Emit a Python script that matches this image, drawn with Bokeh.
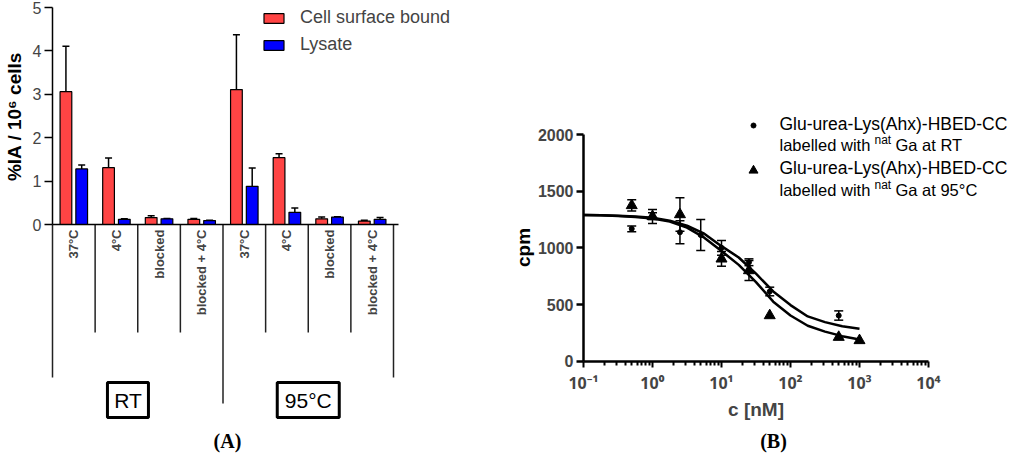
import math
from bokeh.plotting import figure
from bokeh.models import ColumnDataSource, Range1d, FixedTicker, Whisker, TeeHead
from bokeh.layouts import row
from bokeh.embed import file_html
from bokeh.resources import INLINE
from bokeh.core.properties import value

# ---------------- data: panel A ----------------
conditions = ["37°C", "4°C", "blocked", "blocked + 4°C",
              "37°C", "4°C", "blocked", "blocked + 4°C"]
groups = ["RT", "95°C"]
surface_bound = [3.06, 1.31, 0.16, 0.12, 3.11, 1.54, 0.13, 0.08]
surface_sd = [1.05, 0.22, 0.04, 0.02, 1.26, 0.09, 0.04, 0.02]
lysate = [1.28, 0.12, 0.13, 0.09, 0.88, 0.28, 0.17, 0.12]
lysate_sd = [0.09, 0.01, 0.01, 0.01, 0.42, 0.10, 0.01, 0.04]
y_ticks_a = [0, 1, 2, 3, 4, 5]

# ---------------- data: panel B ----------------
conc_rt = [0.5, 1, 2.5, 5, 10, 25, 50, 500]
cpm_rt = [1168, 1280, 1138, 1113, 1000, 873, 615, 403]
sd_rt = [25, 30, 102, 137, 65, 30, 38, 41]
conc_95 = [0.5, 1, 2.5, 10, 25, 50, 500, 1000]
cpm_95 = [1374, 1277, 1294, 903, 800, 403, 212, 183]
sd_95 = [50, 62, 148, 65, 88, 0, 0, 0]
fit_log_c = [-1, -0.75, -0.5, -0.25, 0, 0.25, 0.5, 0.75, 1,
             1.25, 1.5, 1.75, 2, 2.25, 2.5, 2.75, 3]
fit_rt = [1290, 1287, 1283, 1277, 1265, 1240, 1195, 1125, 1015,
          915, 772, 615, 495, 395, 345, 308, 287]
fit_95 = [1290, 1287, 1282, 1273, 1258, 1232, 1178, 1090, 972,
          850, 697, 525, 403, 313, 261, 221, 191]
x_ticks_b = [0.1, 1, 10, 100, 1000, 10000]
x_tick_labels_b = ["10⁻¹", "10⁰", "10¹", "10²", "10³", "10⁴"]
y_ticks_b = [0, 500, 1000, 1500, 2000]

legend_line1 = ["Glu-urea-Lys(Ahx)-HBED-CC", "Glu-urea-Lys(Ahx)-HBED-CC"]
legend_line2a = ["labelled with ", "labelled with "]
legend_sup = ["nat", "nat"]
legend_line2b = ["Ga at RT", "Ga at 95°C"]

SANS = value("Liberation Sans")
RED = "#FF4444"
BLUE = "#0000FF"
H = 453

# ================= panel A =================
WA = 500


def ax(px):          # page x -> category units
    return (px - 52) / 42.625


def ay(py):          # page y -> %IA units
    return (224 - py) / 43.4


pa = figure(width=WA, height=H, output_backend="svg", toolbar_location=None,
            x_range=Range1d(ax(0), ax(WA)), y_range=Range1d(ay(H), ay(0)),
            min_border_left=0, min_border_right=0,
            min_border_top=0, min_border_bottom=0)
pa.grid.visible = False
pa.outline_line_color = None

n = len(conditions)
centers = [i + 0.5 for i in range(n)]

ya = pa.yaxis[0]
ya.fixed_location = 0
ya.bounds = (0, 5)
ya.ticker = FixedTicker(ticks=y_ticks_a)
ya.minor_tick_line_color = None
ya.major_tick_out = 8
ya.major_tick_in = 0
ya.axis_line_width = 1.5
ya.major_tick_line_width = 1.5
ya.major_label_text_font = "Liberation Sans"
ya.major_label_text_font_size = "16px"
ya.major_label_standoff = 3

xa = pa.xaxis[0]
xa.fixed_location = 0
xa.bounds = (0, 8.12)
xa.ticker = FixedTicker(ticks=centers)
xa.major_label_overrides = {c: lab for c, lab in zip(centers, conditions)}
xa.major_label_orientation = math.pi / 2
xa.major_tick_out = 0
xa.major_tick_in = 0
xa.minor_tick_line_color = None
xa.major_tick_line_color = None
xa.axis_line_width = 1.5
xa.major_label_text_font = "Liberation Sans"
xa.major_label_text_font_style = "bold"
xa.major_label_text_font_size = "13px"
xa.major_label_standoff = 5

pa.text(x=[ax(14)], y=[ay(116)], text=["%IA / 10⁶ cells"], angle=math.pi / 2,
        text_align="center", text_baseline="middle", text_font=SANS,
        text_font_style="bold", text_font_size="19px", text_color="black")

# separators below the category axis
sep_x = list(range(n + 1))
sep_end = []
for i in sep_x:
    if i in (0, n):
        sep_end.append(ay(377))
    elif i == n // 2:
        sep_end.append(ay(403))
    else:
        sep_end.append(ay(332))
pa.segment(x0=sep_x, y0=[0] * len(sep_x), x1=sep_x, y1=sep_end,
           line_color="#222222", line_width=1.5)

off = 0.185
src_s = ColumnDataSource(dict(
    x=[c - off for c in centers], top=surface_bound,
    upper=[v + s for v, s in zip(surface_bound, surface_sd)], lower=surface_bound))
src_l = ColumnDataSource(dict(
    x=[c + off for c in centers], top=lysate,
    upper=[v + s for v, s in zip(lysate, lysate_sd)], lower=lysate))
for src in (src_s, src_l):
    pa.add_layout(Whisker(source=src, base="x", upper="upper", lower="lower",
                          line_width=1.5,
                          upper_head=TeeHead(size=7, line_width=1.5),
                          lower_head=None))
pa.vbar(x="x", top="top", width=0.275, source=src_s, fill_color=RED,
        line_color="black", line_width=1.2, legend_label="Cell surface bound")
pa.vbar(x="x", top="top", width=0.275, source=src_l, fill_color=BLUE,
        line_color="black", line_width=1.2, legend_label="Lysate")

leg = pa.legend[0]
leg.location = (261, 398)
leg.glyph_width = 25
leg.glyph_height = 12
leg.label_standoff = 14
leg.spacing = 6
leg.padding = 0
leg.margin = 0
leg.label_height = 20
leg.border_line_color = None
leg.background_fill_alpha = 0
leg.label_text_font = "Liberation Sans"
leg.label_text_font_size = "18px"

group_centers = [1.77, 6.0]
box_src = ColumnDataSource(dict(x=group_centers, y=[ay(399.5)] * 2,
                                w=[41, 62], t=groups))
pa.rect(x="x", y="y", width="w", height=35, width_units="screen",
        height_units="screen", source=box_src, fill_color=None,
        line_color="black", line_width=3)
pa.text(x="x", y="y", text="t", source=box_src, text_align="center",
        text_baseline="middle", text_font=SANS, text_font_size="21px",
        text_color="black")
pa.text(x=[ax(227)], y=[ay(440)], text=["(A)"], text_align="center",
        text_baseline="middle", text_font=value("Liberation Serif"),
        text_font_style="bold", text_font_size="20px", text_color="black")

# ================= panel B =================
WB = 1024 - WA


def bx(px):          # page x -> concentration (log axis)
    return 10 ** (-1 + (px - 583) / 69.0)


def by(py):          # page y -> cpm
    return (360.7 - py) / 0.11335


pb = figure(width=WB, height=H, output_backend="svg", toolbar_location=None,
            x_axis_type="log",
            x_range=Range1d(bx(WA), bx(1024)), y_range=Range1d(by(H), by(0)),
            min_border_left=0, min_border_right=0,
            min_border_top=0, min_border_bottom=0)
pb.grid.visible = False
pb.outline_line_color = None

yb = pb.yaxis[0]
yb.fixed_location = 0.1
yb.bounds = (0, 2000)
yb.ticker = FixedTicker(ticks=y_ticks_b)
yb.minor_tick_line_color = None
yb.major_tick_out = 7
yb.major_tick_in = 0
yb.axis_line_width = 2.5
yb.major_tick_line_width = 2.5
yb.major_label_text_font = "Liberation Sans"
yb.major_label_text_font_style = "bold"
yb.major_label_text_font_size = "16px"
yb.major_label_standoff = 3

pb.text(x=[bx(523)], y=[by(247)], text=["cpm"], angle=math.pi / 2,
        text_align="center", text_baseline="middle", text_font=SANS,
        text_font_style="bold", text_font_size="19px", text_color="black")

minor_b = []
for d in x_ticks_b[:-1]:
    for k in range(2, 10):
        minor_b.append(d * k)
xb = pb.xaxis[0]
xb.fixed_location = 0
xb.bounds = (0.1, 10000)
xb.ticker = FixedTicker(ticks=x_ticks_b, minor_ticks=minor_b)
xb.major_label_overrides = {t: lab for t, lab in zip(x_ticks_b, x_tick_labels_b)}
xb.major_tick_out = 6
xb.major_tick_in = 0
xb.minor_tick_out = 4
xb.minor_tick_in = 0
xb.axis_line_width = 2.5
xb.major_tick_line_width = 2
xb.minor_tick_line_width = 2
xb.major_label_text_font = "Noto Sans"
xb.major_label_text_font_style = "bold"
xb.major_label_text_font_size = "16px"
xb.major_label_standoff = 5
xb.axis_label = "c [nM]"
xb.axis_label_text_font = "Liberation Sans"
xb.axis_label_text_font_style = "bold"
xb.axis_label_text_font_size = "19px"
xb.axis_label_standoff = 1

fit_c = [10 ** v for v in fit_log_c]
pb.line(fit_c, fit_rt, line_color="black", line_width=2.5)
pb.line(fit_c, fit_95, line_color="black", line_width=2.5)


def err_src(c, y, s):
    keep = [i for i in range(len(c)) if s[i] > 0]
    return ColumnDataSource(dict(
        x=[c[i] for i in keep],
        upper=[y[i] + s[i] for i in keep],
        lower=[y[i] - s[i] for i in keep]))


for c, y, s in ((conc_rt, cpm_rt, sd_rt), (conc_95, cpm_95, sd_95)):
    pb.add_layout(Whisker(source=err_src(c, y, s), base="x", upper="upper",
                          lower="lower", line_width=1.5,
                          upper_head=TeeHead(size=9, line_width=1.5),
                          lower_head=TeeHead(size=9, line_width=1.5)))

pb.scatter(conc_rt, cpm_rt, marker="circle", size=5, color="black")
pb.scatter(conc_95, cpm_95, marker="triangle", size=11, color="black")

# legend (manual, to allow the superscript)
pb.scatter([bx(753)], [by(125)], marker="circle", size=5, color="black")
pb.scatter([bx(753)], [by(170)], marker="triangle", size=9, color="black")
tx = bx(779)
pb.text(x=[tx, tx], y=[by(123), by(167)], text=legend_line1,
        text_baseline="middle", text_font=SANS, text_font_size="17.5px",
        text_color="black")
pb.text(x=[tx, tx], y=[by(144), by(189)], text=legend_line2a,
        text_baseline="middle", text_font=SANS, text_font_size="16.5px",
        text_color="black")
pb.text(x=[bx(779 + 95)] * 2, y=[by(139), by(184)], text=legend_sup,
        text_baseline="middle", text_font=SANS, text_font_size="12px",
        text_color="black")
pb.text(x=[bx(779 + 116)] * 2, y=[by(144), by(189)], text=legend_line2b,
        text_baseline="middle", text_font=SANS, text_font_size="16.5px",
        text_color="black")

pb.text(x=[bx(773)], y=[by(440)], text=["(B)"], text_align="center",
        text_baseline="middle", text_font=value("Liberation Serif"),
        text_font_style="bold", text_font_size="20px", text_color="black")

layout = row(pa, pb)
open("out.html", "w").write(file_html(layout, INLINE))
